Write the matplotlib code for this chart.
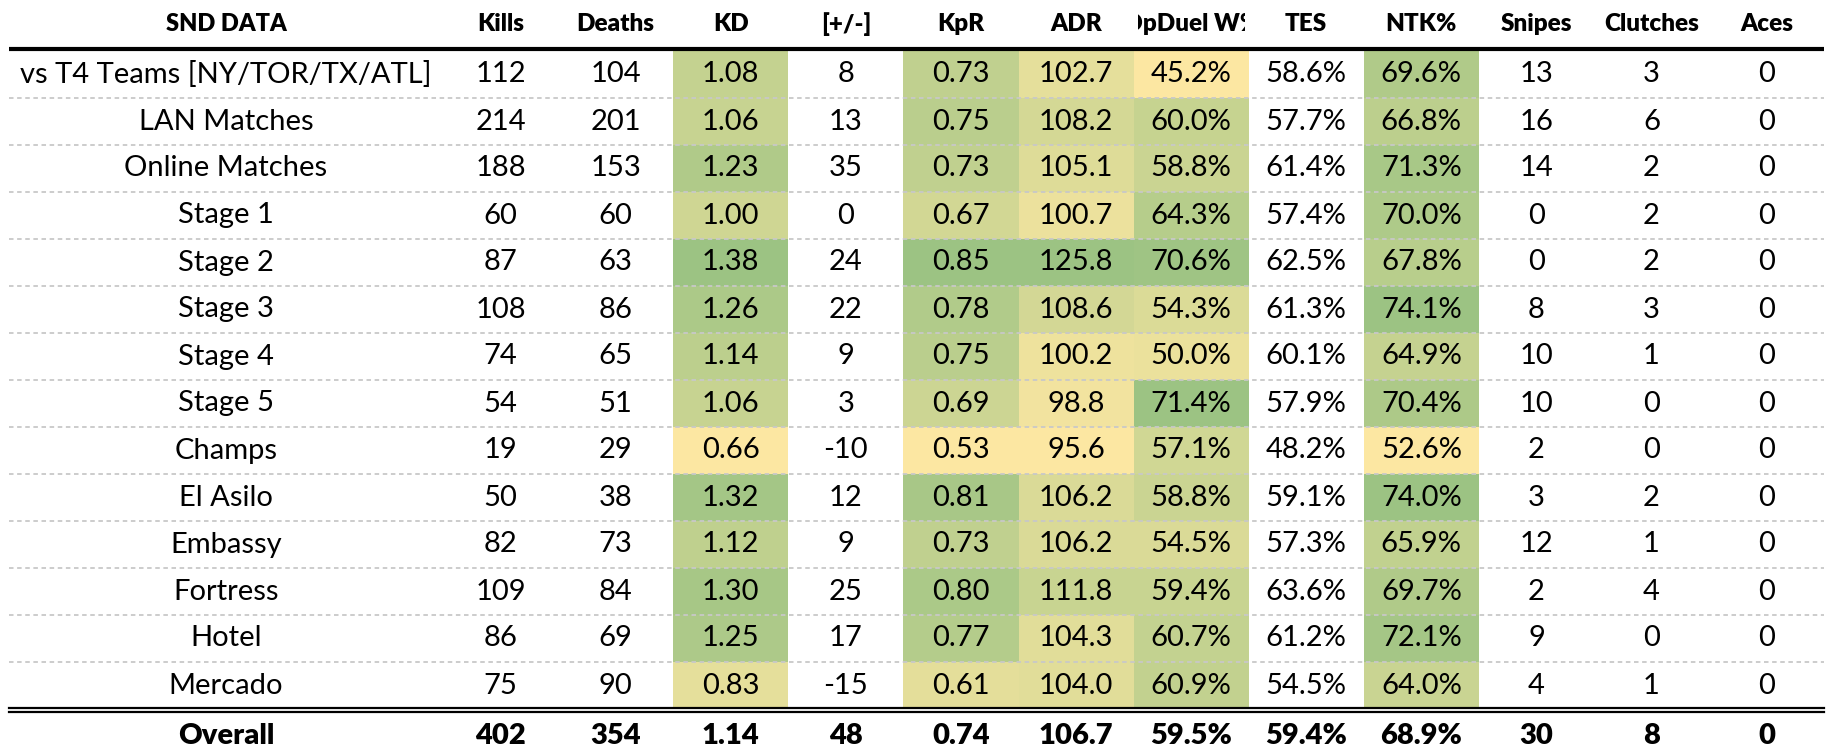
# SND data table with per-column colour scales
import numpy as np
import matplotlib.pyplot as plt
from matplotlib.patches import Rectangle
from matplotlib.colors import LinearSegmentedColormap, Normalize

headers = ["SND DATA", "Kills", "Deaths", "KD", "[+/-]", "KpR", "ADR",
           "OpDuel W%", "TES", "NTK%", "Snipes", "Clutches", "Aces"]
rows = ["vs T4 Teams [NY/TOR/TX/ATL]", "LAN Matches", "Online Matches",
        "Stage 1", "Stage 2", "Stage 3", "Stage 4", "Stage 5", "Champs",
        "El Asilo", "Embassy", "Fortress", "Hotel", "Mercado"]

kills = [112, 214, 188, 60, 87, 108, 74, 54, 19, 50, 82, 109, 86, 75]
deaths = [104, 201, 153, 60, 63, 86, 65, 51, 29, 38, 73, 84, 69, 90]
kd = [1.08, 1.06, 1.23, 1.00, 1.38, 1.26, 1.14, 1.06, 0.66, 1.32, 1.12, 1.30, 1.25, 0.83]
plusminus = [8, 13, 35, 0, 24, 22, 9, 3, -10, 12, 9, 25, 17, -15]
kpr = [0.73, 0.75, 0.73, 0.67, 0.85, 0.78, 0.75, 0.69, 0.53, 0.81, 0.73, 0.80, 0.77, 0.61]
adr = [102.7, 108.2, 105.1, 100.7, 125.8, 108.6, 100.2, 98.8, 95.6, 106.2, 106.2, 111.8, 104.3, 104.0]
opduel = [45.2, 60.0, 58.8, 64.3, 70.6, 54.3, 50.0, 71.4, 57.1, 58.8, 54.5, 59.4, 60.7, 60.9]
tes = [58.6, 57.7, 61.4, 57.4, 62.5, 61.3, 60.1, 57.9, 48.2, 59.1, 57.3, 63.6, 61.2, 54.5]
ntk = [69.6, 66.8, 71.3, 70.0, 67.8, 74.1, 64.9, 70.4, 52.6, 74.0, 65.9, 69.7, 72.1, 64.0]
snipes = [13, 16, 14, 0, 0, 8, 10, 10, 2, 3, 12, 2, 9, 4]
clutches = [3, 6, 2, 2, 2, 3, 1, 0, 0, 2, 1, 4, 0, 1]
aces = [0, 0, 0, 0, 0, 0, 0, 0, 0, 0, 0, 0, 0, 0]

overall = ["Overall", "402", "354", "1.14", "48", "0.74", "106.7",
           "59.5%", "59.4%", "68.9%", "30", "8", "0"]

columns = [
    (kills, "{:d}", False),
    (deaths, "{:d}", False),
    (kd, "{:.2f}", True),
    (plusminus, "{:d}", False),
    (kpr, "{:.2f}", True),
    (adr, "{:.1f}", True),
    (opduel, "{:.1f}%", True),
    (tes, "{:.1f}%", False),
    (ntk, "{:.1f}%", True),
    (snipes, "{:d}", False),
    (clutches, "{:d}", False),
    (aces, "{:d}", False),
]

cmap = LinearSegmentedColormap.from_list("yg", ["#fce7a2", "#9cc383"])

body_font = "Lato"
head_font = "Lato"

fig = plt.figure(figsize=(18.36, 7.56), dpi=100)
ax = fig.add_axes([0, 0, 1, 1])
ax.set_xlim(0, 1836)
ax.set_ylim(756, 0)
ax.axis("off")

left = 9
label_w = 434
col_w = 115.1
right = left + label_w + col_w * len(columns)
top = 51
row_h = 47
head_y = 24
n = len(rows)

def col_x(j):
    return left + label_w + col_w * j

# coloured cells
for j, (vals, fmt, colored) in enumerate(columns):
    if colored:
        norm = Normalize(min(vals), max(vals))
        for i, v in enumerate(vals):
            ax.add_patch(Rectangle((col_x(j), top + i * row_h), col_w, row_h,
                                   facecolor=cmap(norm(v)), edgecolor="none", zorder=1))

# row separators
for i in range(1, n):
    ax.plot([left, right], [top + i * row_h] * 2, color="#c8c8c8", lw=1.3,
            ls=(0, (2.5, 2)), zorder=2)

# header (text clipped to its own column, like the original)
ax.text(left + label_w / 2, head_y, headers[0], ha="center", va="center",
        fontsize=17, fontweight="heavy", family=head_font, zorder=3)
for j in range(len(columns)):
    t = ax.text(col_x(j) + col_w / 2, head_y, headers[j + 1], ha="center", va="center",
                fontsize=17.5, fontweight="heavy", family=head_font, zorder=3)
    clip = Rectangle((col_x(j) + 4, 0), col_w - 8, top, transform=ax.transData)
    t.set_clip_path(clip)
    t.set_clip_on(True)

ax.plot([left, right], [49, 49], color="black", lw=3, solid_capstyle="butt", zorder=4)

# body
for i, name in enumerate(rows):
    y = top + (i + 0.5) * row_h
    ax.text(left + label_w / 2, y, name, ha="center", va="center",
            fontsize=21, family=body_font, zorder=3)
    for j, (vals, fmt, colored) in enumerate(columns):
        ax.text(col_x(j) + col_w / 2, y, fmt.format(vals[i]), ha="center",
                va="center", fontsize=21, family=body_font, zorder=3)

# double line + overall
ax.plot([left, right], [708, 708], color="black", lw=1.6, zorder=4)
ax.plot([left, right], [712, 712], color="black", lw=1.6, zorder=4)
ax.text(left + label_w / 2, 736, overall[0], ha="center", va="center",
        fontsize=21, fontweight="heavy", family=head_font, zorder=3)
for j in range(len(columns)):
    ax.text(col_x(j) + col_w / 2, 736, overall[j + 1], ha="center", va="center",
            fontsize=21, fontweight="heavy", family=head_font, zorder=3)

fig.savefig("out.png", dpi=100)
